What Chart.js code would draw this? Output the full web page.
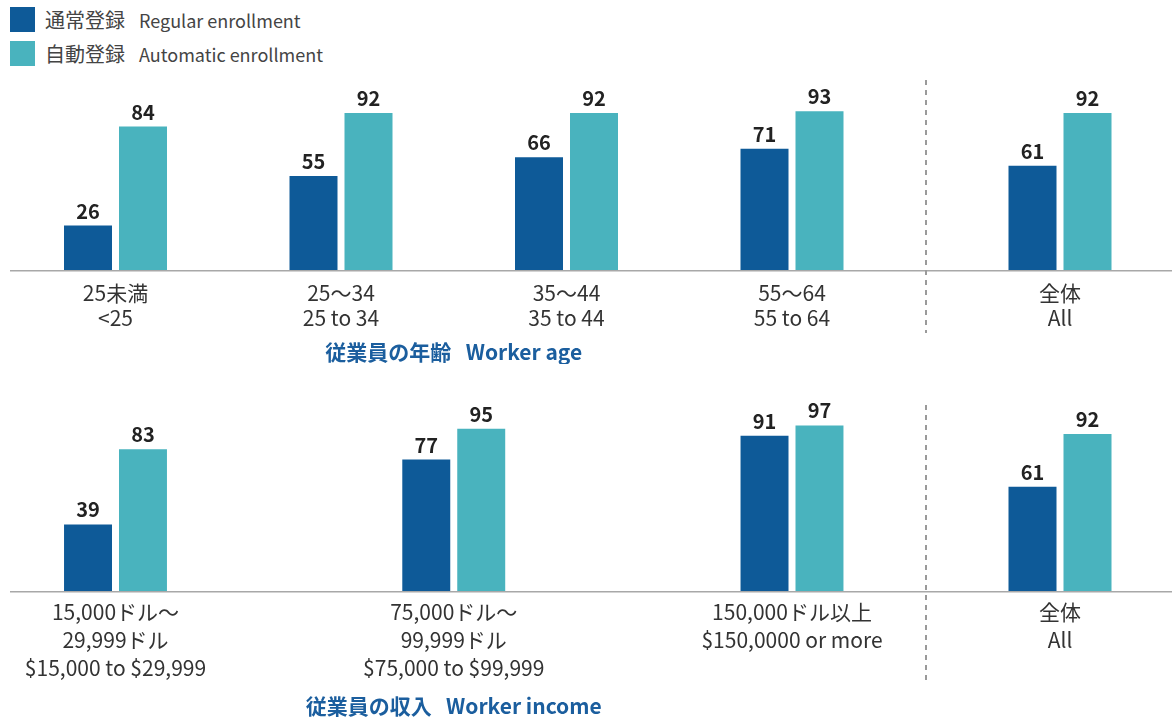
<!DOCTYPE html>
<html lang="ja">
<head>
<meta charset="utf-8">
<script src="https://cdn.jsdelivr.net/npm/chart.js@4.4.1/dist/chart.umd.min.js"></script>
<style>
  body { margin: 0; background: #fff; }
  #wrap { position: relative; width: 1172px; height: 718px; overflow: hidden; font-family: "Noto Sans CJK JP", "Noto Sans", sans-serif; }
  canvas { position: absolute; }
  .legend { position: absolute; left: 10px; height: 25px; display: flex; align-items: center; color: #444; }
  .legend i { width: 25px; height: 25px; margin-right: 10px; display: inline-block; }
  .legend .ja { font-size: 20px; }
  .legend .en { font-size: 18px; margin-left: 14px; }
  .sep { position: absolute; left: 925px; width: 1.5px; background: repeating-linear-gradient(to bottom, #9a9a9a 0 5px, transparent 5px 10px); }
</style>
</head>
<body>
<div id="wrap">
  <div id="legend"></div>
  <canvas id="ageChart" width="926" height="364" style="left:0;top:0"></canvas>
  <canvas id="ageAll" width="246" height="364" style="left:926px;top:0"></canvas>
  <canvas id="incomeChart" width="926" height="358" style="left:0;top:360px"></canvas>
  <canvas id="incomeAll" width="246" height="358" style="left:926px;top:360px"></canvas>
  <div class="sep" style="top:80px;height:253px"></div>
  <div class="sep" style="top:405px;height:278px"></div>
</div>
<script>
const BLUE = "#0e5a98";
const TEAL = "#49b3be";

// series
const seriesJa = ["通常登録", "自動登録"];
const seriesEn = ["Regular enrollment", "Automatic enrollment"];

// worker age
const ageLabels = [["25未満", "<25"], ["25〜34", "25 to 34"], ["35〜44", "35 to 44"], ["55〜64", "55 to 64"]];
const ageRegular = [26, 55, 66, 71];
const ageAuto = [84, 92, 92, 93];

// worker income
const incomeLabels = [
  ["15,000ドル〜", "29,999ドル", "$15,000 to $29,999"],
  ["75,000ドル〜", "99,999ドル", "$75,000 to $99,999"],
  ["150,000ドル以上", "$150,0000 or more"]
];
const incomeRegular = [39, 77, 91];
const incomeAuto = [83, 95, 97];

// all workers
const allLabels = [["全体", "All"]];
const allRegular = [61];
const allAuto = [92];

Chart.defaults.font.family = '"Noto Sans CJK JP", "Noto Sans", sans-serif';

// legend
const legend = document.getElementById("legend");
seriesJa.forEach((name, i) => {
  const row = document.createElement("div");
  row.className = "legend";
  row.style.top = (7 + i * 34) + "px";
  row.innerHTML = `<i style="background:${i ? TEAL : BLUE}"></i><span class="ja">${name}</span><span class="en">${seriesEn[i]}</span>`;
  legend.appendChild(row);
});

// grey base line running across the whole panel
const baseLine = {
  id: "baseLine",
  beforeDatasetsDraw(chart, args, opts) {
    const ctx = chart.ctx;
    const y = chart.scales.y.getPixelForValue(0) + 0.75;
    ctx.save();
    ctx.strokeStyle = "#a8a8a8";
    ctx.lineWidth = 1.5;
    ctx.beginPath();
    ctx.moveTo(opts.from || 0, y);
    ctx.lineTo(chart.width, y);
    ctx.stroke();
    ctx.restore();
  }
};

// numbers above the bars
const valueLabels = {
  id: "valueLabels",
  afterDatasetsDraw(chart) {
    const ctx = chart.ctx;
    ctx.save();
    ctx.font = 'bold 20px "Noto Sans CJK JP", "Noto Sans", sans-serif';
    ctx.fillStyle = "#222";
    ctx.textAlign = "center";
    ctx.textBaseline = "alphabetic";
    chart.data.datasets.forEach((ds, i) => {
      chart.getDatasetMeta(i).data.forEach((bar, j) => {
        ctx.fillText(ds.data[j], bar.x, bar.y - 7);
      });
    });
    ctx.restore();
  }
};

function makeChart(id, labels, regular, auto, opt) {
  return new Chart(document.getElementById(id), {
    type: "bar",
    data: {
      labels,
      datasets: [
        { label: seriesJa[0], data: regular, backgroundColor: BLUE },
        { label: seriesJa[1], data: auto, backgroundColor: TEAL }
      ]
    },
    options: {
      responsive: false,
      animation: false,
      layout: { padding: { left: opt.left, right: opt.right, top: opt.top, bottom: 0 } },
      datasets: { bar: { categoryPercentage: opt.catPct, barPercentage: 48 / 55, clip: false } },
      plugins: {
        legend: { display: false },
        tooltip: { enabled: false },
        baseLine: { from: opt.lineFrom }
      },
      scales: {
        x: {
          offset: opt.offset,
          grid: { display: false, drawTicks: false },
          border: { display: false },
          ticks: { color: "#333", font: { size: 21, lineHeight: opt.lh }, padding: opt.pad, autoSkip: false, maxRotation: 0 },
          title: {
            display: !!opt.title,
            text: opt.title || "",
            color: "#1b5e9e",
            font: { size: 21, weight: "bold", lineHeight: 1.15 },
            padding: 0
          },
          afterFit: s => { s.height = opt.axisH; }
        },
        y: { display: false, min: 0, max: 100 }
      }
    },
    plugins: [baseLine, valueLabels]
  });
}

makeChart("ageChart", ageLabels, ageRegular, ageAuto, {
  left: 115.5, right: 134, top: 99.3, axisH: 94, offset: false,
  catPct: 110 / 225.5, lh: "25px", pad: 10.5, lineFrom: 10,
  title: "従業員の年齢   Worker age"
});
makeChart("ageAll", allLabels, allRegular, allAuto, {
  left: 22, right: 0, top: 99.3, axisH: 94, offset: true,
  catPct: 110 / 224, lh: "25px", pad: 10.5, lineFrom: 0
});
makeChart("incomeChart", incomeLabels, incomeRegular, incomeAuto, {
  left: 115.5, right: 134, top: 60.3, axisH: 127, offset: false,
  catPct: 110 / 338.5, lh: "28px", pad: 7, lineFrom: 10,
  title: "従業員の収入   Worker income"
});
makeChart("incomeAll", allLabels, allRegular, allAuto, {
  left: 22, right: 0, top: 60.3, axisH: 127, offset: true,
  catPct: 110 / 224, lh: "28px", pad: 7, lineFrom: 0
});
</script>
</body>
</html>
